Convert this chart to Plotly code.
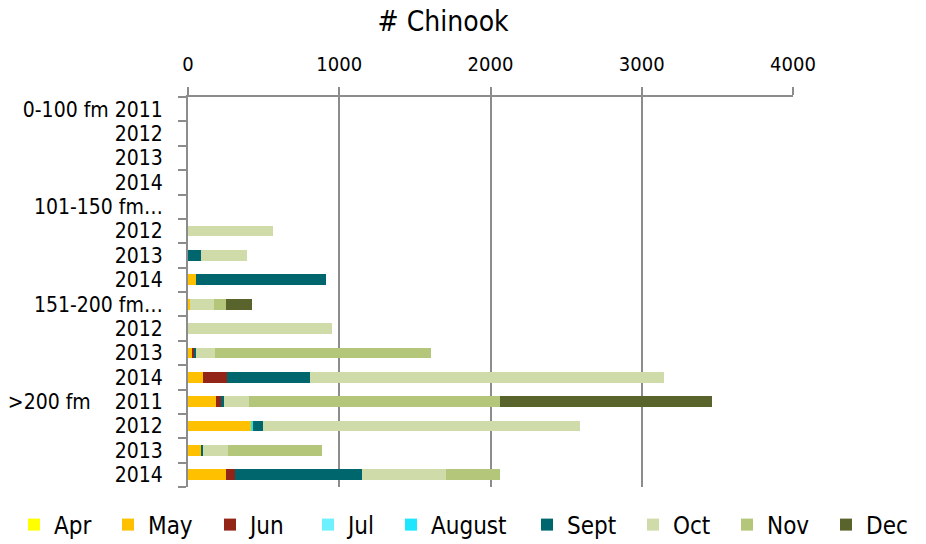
import plotly.graph_objects as go

categories = [
    "0-100 fm 2011", "0-100 fm 2012", "0-100 fm 2013", "0-100 fm 2014",
    "101-150 fm 2011", "101-150 fm 2012", "101-150 fm 2013", "101-150 fm 2014",
    "151-200 fm 2011", "151-200 fm 2012", "151-200 fm 2013", "151-200 fm 2014",
    ">200 fm 2011", ">200 fm 2012", ">200 fm 2013", ">200 fm 2014",
]
tick_labels = [
    "0-100 fm 2011", "2012", "2013", "2014",
    "101-150 fm…", "2012", "2013", "2014",
    "151-200 fm…", "2012", "2013", "2014",
    ">200 fm\u00a0\u00a0\u00a0\u00a02011", "2012", "2013", "2014",
]

months = ["Apr", "May", "Jun", "Jul", "August", "Sept", "Oct", "Nov", "Dec"]

apr =    [0, 0, 0, 0, 0, 0, 0, 0, 0, 0, 0, 0, 0, 0, 0, 0]
may =    [0, 0, 0, 0, 0, 0, 0, 50, 12, 0, 25, 97, 187, 421, 90, 251]
jun =    [0, 0, 0, 0, 0, 0, 0, 0, 0, 0, 15, 161, 29, 0, 0, 59]
jul =    [0, 0, 0, 0, 0, 0, 0, 0, 0, 0, 0, 0, 0, 0, 0, 0]
august = [0, 0, 0, 0, 0, 0, 0, 0, 0, 0, 0, 0, 0, 6, 0, 0]
sept =   [0, 0, 0, 0, 0, 0, 86, 862, 0, 0, 15, 549, 24, 72, 10, 840]
oct_ =   [0, 0, 0, 0, 0, 560, 302, 0, 160, 950, 121, 2343, 166, 2095, 167, 557]
nov =    [0, 0, 0, 0, 0, 0, 0, 0, 77, 0, 1430, 0, 1657, 0, 618, 357]
dec =    [0, 0, 0, 0, 0, 0, 0, 0, 172, 0, 0, 0, 1403, 0, 0, 0]

series = [apr, may, jun, jul, august, sept, oct_, nov, dec]
colors = ["#FFFF00", "#FFC000", "#922418", "#6EF1FF", "#1FE6FF",
          "#00666E", "#CFDBA8", "#B3C67A", "#58642B"]

FONT = "DejaVu Sans Condensed"
FIG_W, FIG_H = 918, 536  # page body has an 8px default margin
legend_left_px = [6, 100, 202, 300, 383, 519, 625, 719, 818]

fig = go.Figure()
layout_legends = {}
for i, (name, vals, col) in enumerate(zip(months, series, colors)):
    key = "legend" if i == 0 else f"legend{i + 1}"
    fig.add_trace(go.Bar(
        y=categories, x=vals, name=name, orientation="h",
        marker=dict(color=col, line=dict(width=0)),
        legend=key, showlegend=True,
    ))
    layout_legends[key] = dict(
        orientation="h", xref="container", yref="container",
        x=legend_left_px[i] / FIG_W, xanchor="left",
        y=1 - 517 / FIG_H, yanchor="middle",
        font=dict(family=FONT, size=24, color="#000000"), itemwidth=30,
        bgcolor="rgba(0,0,0,0)", visible=True,
    )

fig.update_layout(
    barmode="stack",
    bargap=0.56,
    showlegend=True,
    width=FIG_W, height=FIG_H,
    margin=dict(l=180, r=133, t=89, b=57),
    paper_bgcolor="white", plot_bgcolor="white",
    font=dict(family=FONT, size=21, color="#000000"),
    title=dict(text="# Chinook", x=0.474, xanchor="center", y=1, yanchor="top",
               xref="container", yref="container", pad=dict(t=3),
               font=dict(family=FONT, size=28, color="#000000")),
    xaxis=dict(side="top", range=[0, 4000], tickvals=[0, 1000, 2000, 3000, 4000],
               showgrid=True, gridcolor="#8C8C8C", gridwidth=2,
               showline=True, linecolor="#8C8C8C", linewidth=2,
               ticks="outside", ticklen=8, tickcolor="#8C8C8C", tickwidth=2,
               ticklabelstandoff=8, automargin=False,
               zeroline=False, tickfont=dict(size=20)),
    yaxis=dict(type="category", categoryorder="array", categoryarray=categories,
               autorange="reversed", tickmode="array", tickvals=categories,
               ticktext=tick_labels, tickson="boundaries",
               showline=True, linecolor="#8C8C8C", linewidth=2,
               ticks="outside", ticklen=8, tickcolor="#8C8C8C", tickwidth=2,
               ticklabelstandoff=19, automargin=False,
               showgrid=False, tickfont=dict(size=21)),
    **layout_legends,
)

fig.write_html("out.html")
